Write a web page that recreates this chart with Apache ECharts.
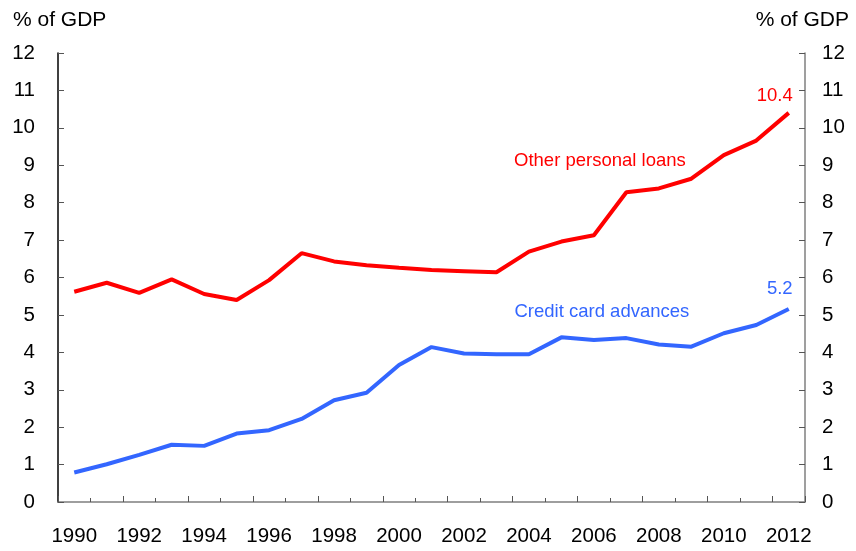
<!DOCTYPE html>
<html>
<head>
<meta charset="utf-8">
<script src="https://cdn.jsdelivr.net/npm/echarts@6/dist/echarts.min.js"></script>
<style>
html,body{margin:0;padding:0;background:#fff;}
#chart{width:856px;height:551px;}
</style>
</head>
<body>
<div id="chart"></div>
<script>
var years = ['1990','1991','1992','1993','1994','1995','1996','1997','1998','1999','2000','2001','2002','2003','2004','2005','2006','2007','2008','2009','2010','2011','2012'];
var otherPersonalLoans = [5.62,5.86,5.59,5.95,5.56,5.40,5.93,6.65,6.43,6.33,6.26,6.20,6.17,6.14,6.69,6.96,7.13,8.28,8.38,8.64,9.27,9.66,10.4];
var creditCardAdvances = [0.79,1.01,1.26,1.53,1.50,1.83,1.92,2.22,2.72,2.92,3.66,4.14,3.97,3.95,3.95,4.40,4.33,4.38,4.21,4.15,4.51,4.73,5.16];
var yTicks = [0,1,2,3,4,5,6,7,8,9,10,11,12];
var unitLabel = '% of GDP';
var seriesNames = ['Other personal loans','Credit card advances'];
var endLabels = ['10.4','5.2'];

var FONT = 'Liberation Sans, Arial, sans-serif';
var RED = '#ff0000', BLUE = '#3366ff';
var lastYear = years[years.length - 1];

function marks(name, nameCoord, nameOffset, arr, endText, endOffset, color) {
  return {
    symbol: 'circle', symbolSize: 0, silent: true,
    data: [
      {coord: nameCoord, label: {formatter: name, offset: nameOffset}},
      {coord: [lastYear, arr[arr.length - 1]], label: {formatter: endText, offset: endOffset}}
    ],
    label: {show: true, position: 'inside', color: color, fontSize: 18.5, fontFamily: FONT}
  };
}

var chart = echarts.init(document.getElementById('chart'), null, {renderer: 'canvas'});
var yAxisBase = {
  type: 'value', min: yTicks[0], max: yTicks[yTicks.length - 1], interval: 1,
  splitLine: {show: false}
};
chart.setOption({
  animation: false,
  backgroundColor: '#fff',
  title: [
    {text: unitLabel, left: 8, top: 5, textStyle: {fontSize: 21, fontWeight: 'normal', color: '#000', fontFamily: FONT}},
    {text: unitLabel, right: 2, top: 5, textStyle: {fontSize: 21, fontWeight: 'normal', color: '#000', fontFamily: FONT}}
  ],
  grid: {left: 58, right: 51, top: 53, bottom: 49, containLabel: false},
  xAxis: [
    {
      type: 'category', data: years, boundaryGap: true, position: 'bottom',
      axisLine: {show: true, lineStyle: {color: '#7f7f7f', width: 1.5}},
      axisTick: {show: true, inside: true, interval: 0, length: 4, lineStyle: {color: '#555'}},
      axisLabel: {interval: 1, margin: 24, fontSize: 20.5, color: '#000', fontFamily: FONT}
    },
    {
      type: 'category', data: years, boundaryGap: true, position: 'bottom',
      axisLine: {show: false},
      axisTick: {show: true, inside: true, interval: 1, length: 6, lineStyle: {color: '#555'}},
      axisLabel: {show: false}
    }
  ],
  yAxis: [
    Object.assign({}, yAxisBase, {
      position: 'left',
      axisLine: {show: true, lineStyle: {color: '#000', width: 1.5}},
      axisTick: {show: true, inside: true, length: 6, lineStyle: {color: '#555'}},
      axisLabel: {margin: 23, fontSize: 20.5, color: '#000', fontFamily: FONT}
    }),
    Object.assign({}, yAxisBase, {
      position: 'right',
      axisLine: {show: true, lineStyle: {color: '#7f7f7f', width: 1.5}},
      axisTick: {show: true, inside: true, length: 6, lineStyle: {color: '#555'}},
      axisLabel: {margin: 17, fontSize: 20.5, color: '#000', fontFamily: FONT}
    })
  ],
  series: [
    {
      name: seriesNames[0], type: 'line', xAxisIndex: 0, yAxisIndex: 0,
      data: otherPersonalLoans,
      symbol: 'none', lineStyle: {color: RED, width: 4}, itemStyle: {color: RED},
      markPoint: marks(seriesNames[0], ['2006', 9.11], [6, 0], otherPersonalLoans, endLabels[0], [-14, -17], RED)
    },
    {
      name: seriesNames[1], type: 'line', xAxisIndex: 0, yAxisIndex: 0,
      data: creditCardAdvances,
      symbol: 'none', lineStyle: {color: BLUE, width: 4}, itemStyle: {color: BLUE},
      markPoint: marks(seriesNames[1], ['2006', 5.08], [8, 0], creditCardAdvances, endLabels[1], [-9, -20], BLUE)
    }
  ]
});
</script>
</body>
</html>
